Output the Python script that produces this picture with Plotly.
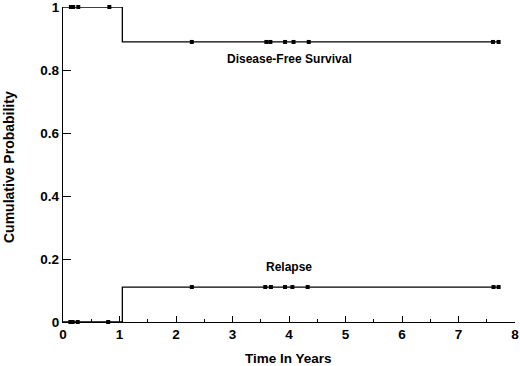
import plotly.graph_objects as go

# Data
event_time = 1.05
dfs_before, dfs_after = 1.0, 0.889
rel_before, rel_after = 0.0, 0.111
x_end = 7.71
censor_dfs = [0.14, 0.18, 0.27, 0.82, 2.28, 3.60, 3.67, 3.93, 4.08, 4.35, 7.61, 7.71]
censor_rel = [0.13, 0.17, 0.26, 0.80, 2.28, 3.58, 3.68, 3.93, 4.06, 4.33, 7.62, 7.71]

x_ticks = [0, 1, 2, 3, 4, 5, 6, 7, 8]
y_ticks = [0, 0.2, 0.4, 0.6, 0.8, 1]
y_tick_text = ["0", "0.2", "0.4", "0.6", "0.8", "1"]

def step_y(t, before, after):
    return before if t < event_time else after

fig = go.Figure()
line = dict(color="black", width=1.3, shape="hv")
fig.add_trace(go.Scatter(x=[0, event_time, x_end], y=[dfs_before, dfs_after, dfs_after],
                         mode="lines", line=line, cliponaxis=False, hoverinfo="skip"))
fig.add_trace(go.Scatter(x=[0, event_time, x_end], y=[rel_before, rel_after, rel_after],
                         mode="lines", line=line, cliponaxis=False, hoverinfo="skip"))
mk = dict(symbol="square", size=4, color="black")
fig.add_trace(go.Scatter(x=censor_dfs, y=[step_y(t, dfs_before, dfs_after) for t in censor_dfs],
                         mode="markers", marker=mk, cliponaxis=False))
fig.add_trace(go.Scatter(x=censor_rel, y=[step_y(t, rel_before, rel_after) for t in censor_rel],
                         mode="markers", marker=mk, cliponaxis=False))

font_family = "Liberation Sans, Arial, sans-serif"
fig.add_annotation(x=4.0, y=0.836, text="<b>Disease-Free Survival</b>", showarrow=False,
                   font=dict(size=12, color="black", family=font_family))
fig.add_annotation(x=4.0, y=0.174, text="<b>Relapse</b>", showarrow=False,
                   font=dict(size=12, color="black", family=font_family))

# axis titles as paper annotations
L, R, T, B = 63, 5, 7, 44
W, H = 520, 366
pw, ph = W - L - R, H - T - B
fig.add_annotation(xref="paper", yref="paper", x=(288.5 - L) / pw, y=-(358 - (H - B)) / ph,
                   text="<b>Time In Years</b>", showarrow=False, xanchor="center", yanchor="middle",
                   font=dict(size=13.5, color="black", family=font_family))
fig.add_annotation(xref="paper", yref="paper", x=-(L - 9) / pw, y=((H - B) - 167) / ph,
                   text="<b>Cumulative Probability</b>", showarrow=False, textangle=-90,
                   xanchor="center", yanchor="middle",
                   font=dict(size=14, color="black", family=font_family))

fig.update_layout(
    width=W, height=H,
    margin=dict(l=L, r=R, t=T, b=B, autoexpand=False),
    plot_bgcolor="white", paper_bgcolor="white",
    showlegend=False,
    font=dict(family=font_family, color="black"),
    xaxis=dict(range=[0, 8], tickvals=x_ticks, ticktext=[f"<b>{v}</b>" for v in x_ticks],
               ticks="inside", ticklen=6, tickwidth=1, tickcolor="black",
               minor=dict(dtick=0.5, ticks="inside", ticklen=3, tickcolor="black"),
               showline=True, linecolor="black", linewidth=1.3, showgrid=False, zeroline=False,
               automargin=False, ticklabeloverflow="allow", tickfont=dict(size=13.5)),
    yaxis=dict(range=[0, 1], tickvals=y_ticks, ticktext=[f"<b>{t}</b>" for t in y_tick_text],
               ticks="inside", ticklen=8, tickwidth=1, tickcolor="black",
               showline=True, linecolor="black", linewidth=1.3, showgrid=False, zeroline=False,
               automargin=False, ticklabeloverflow="allow", tickfont=dict(size=13.5)),
)

fig.write_html("out.html", config={"displayModeBar": False},
               post_script="document.body.style.margin='0px';")
